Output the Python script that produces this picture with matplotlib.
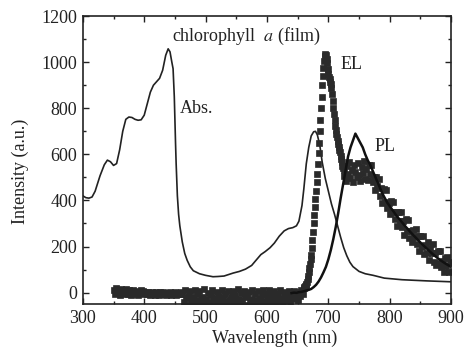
import numpy as np
import matplotlib
matplotlib.use("Agg")
import matplotlib.pyplot as plt
from matplotlib.ticker import MultipleLocator

plt.rcParams['font.family'] = ['Liberation Serif', 'DejaVu Serif']
plt.rcParams['mathtext.fontset'] = 'stix'

# ------------------------------  Absorption (thin solid line)  ------------------------------
abs_wl = [300, 305, 310, 315, 320, 328, 335, 340, 345, 350, 355, 360, 365, 370, 375, 380,
          385, 390, 395, 400, 405, 410, 415, 420, 425, 430, 435, 439, 442, 445, 447, 449,
          451, 452, 454, 456, 458, 462, 466, 470, 475, 480, 490, 500, 512, 520, 530, 545,
          555, 565, 575, 582, 590, 597, 605, 612, 620, 628, 635, 642, 648, 652, 657, 660,
          664, 668, 672, 676, 679, 682, 686, 690, 695, 700, 705, 710, 715, 720, 725, 730,
          735, 740, 750, 760, 773, 791, 820, 860, 900]
abs_val = [420, 412, 410, 415, 440, 507, 555, 575, 568, 552, 560, 620, 700, 752, 762, 760,
           752, 748, 750, 770, 820, 870, 900, 915, 930, 965, 1030, 1058, 1045, 1000, 972, 850,
           650, 560, 420, 340, 290, 220, 170, 140, 112, 95, 82, 75, 69, 70, 72, 85,
           92, 102, 118, 140, 165, 178, 195, 215, 245, 268, 278, 282, 290, 310, 378, 450,
           559, 630, 680, 698, 700, 685, 640, 565, 495, 440, 385, 340, 290, 240, 195, 160,
           132, 113, 92, 82, 75, 63, 56, 51, 47]

# ------------------------------  EL (square markers)  ------------------------------
el_wl = np.concatenate([np.arange(350, 659, 2), np.arange(660, 727, 1), np.arange(728, 901, 2)])
el_low = [12, -5, 18, 2, 8, -10, 15, 0, 6, -8, 14, 3, -4, 10, -12, 5, 12, -6, 2, 9,
          -9, 4, 11, -3, 6, -7,
          2, -8, 4, -2, -10, 3, -5, 0, -9, 2, -4, -11, 1, -6, 3, -8, -2, -12, 0, -5,
          2, -9, -3, -7, 1, -10, -4, 0, -8, 3,
          -5, -40, 10, -25, -55, -15, 5, -35, -60, -20, 12, -45, -8, -30, 8, -50, -18, -38, 15, -28,
          -55, -2, -42, -12, 10, -33, -58, -22, 4, -48, -15, -36, 12, -25, -52, -5, -40, 8, -30, -56,
          -18, 6, -44, -10, -34, 14, -26, -50, -3, -38, 9, -20, -54, -14, 2, -42, -28, 11, -46, -8,
          -32, -52, 5, -24, -40, -12, 13, -36, -48, -6, -22, 10, -44, -16, -30, 7, -50, -20, -4, -38,
          12, -26, -46, -10, 3, -34, -18, 8, -40, -14, -28, 6, -22, -8, -32, 4, -15, 10, -5]
el_peak = [20, 25, 28, 32, 36, 45, 58, 72, 88, 105,
           125, 145, 165, 195, 230, 265, 300, 335, 370, 405,
           440, 478, 516, 560, 605, 650, 700, 750, 800, 850,
           900, 940, 975, 1005, 1025, 1035, 1030, 1015, 995, 970,
           950, 935, 925, 915, 905, 890, 860, 830, 800, 775,
           750, 725, 705, 690, 675, 660, 645, 632, 620, 610,
           595, 580, 565, 550, 540, 530, 505]
el_tail = [485, 550, 515, 567, 497, 533, 480, 555, 525, 503, 563, 510, 483, 545, 520, 570,
           495, 537, 487, 553, 513, 552, 480, 503, 446, 502, 462, 495, 418, 455, 390, 450,
           392, 446, 368, 388, 342, 396, 352, 394, 318, 349, 287, 349, 312, 349, 284, 312,
           250, 318, 266, 317, 238, 268, 218, 270, 241, 276, 210, 244, 179, 246, 200, 247,
           168, 205, 172, 221, 142, 195, 170, 210, 135, 170, 118, 180, 130, 180, 112, 138,
           91, 150, 116, 156, 88, 129, 132]
el_val = el_low + el_peak + el_tail

# ------------------------------  PL (thick solid line)  ------------------------------
pl_wl = np.arange(640, 901, 4)
pl_val = [-2, 0, -1, 2, 3, 6, 9, 12, 16, 24, 34, 48, 66, 88, 112, 145,
          185, 232, 285, 345, 410, 470, 530, 590, 630, 660,
          690, 670, 650, 630, 600, 575, 555, 530, 505, 480,
          455, 430, 410, 390, 375, 360, 345, 330, 318, 305,
          292, 280, 268, 256, 245, 234, 223, 212, 202, 192,
          182, 172, 163, 154, 146, 138, 131, 124, 118, 112]

ink = '#222222'

fig = plt.figure(figsize=(4.68, 3.5), dpi=100)
ax = fig.add_axes([0.177, 0.131, 0.787, 0.823])

ax.plot(abs_wl, abs_val, color=ink, lw=1.2)
ax.plot(el_wl, el_val, ls='none', marker='s', ms=4.0, color='#2a2a2a', mec='#2a2a2a', mew=0.5)
ax.plot(pl_wl, pl_val, color='#111111', lw=1.8)

ax.set_xlim(300, 900)
ax.set_ylim(-50, 1200)
ax.xaxis.set_major_locator(MultipleLocator(100))
ax.xaxis.set_minor_locator(MultipleLocator(50))
ax.yaxis.set_major_locator(MultipleLocator(200))
ax.yaxis.set_minor_locator(MultipleLocator(100))
ax.tick_params(which='both', direction='in', top=True, right=True, colors=ink,
               labelsize=13, width=1.0)
ax.tick_params(which='major', length=4.5, pad=4)
ax.tick_params(which='minor', length=2.5)
for s in ax.spines.values():
    s.set_linewidth(1.2)
    s.set_color(ink)

ax.set_xlabel('Wavelength (nm)', fontsize=13, color=ink)
ax.set_ylabel('Intensity (a.u.)', fontsize=13, color=ink)
ax.xaxis.set_label_coords(0.52, -0.09)
ax.yaxis.set_label_coords(-0.145, 0.46)

ax.text(566, 1110, 'chlorophyll  $a$ (film)', fontsize=13, color=ink, ha='center', va='center')
ax.text(458, 800, 'Abs.', fontsize=13, color=ink, ha='left', va='center')
ax.text(719, 989, 'EL', fontsize=13, color=ink, ha='left', va='center')
ax.text(775, 632, 'PL', fontsize=13, color=ink, ha='left', va='center')

fig.savefig('out.png', dpi=100)
